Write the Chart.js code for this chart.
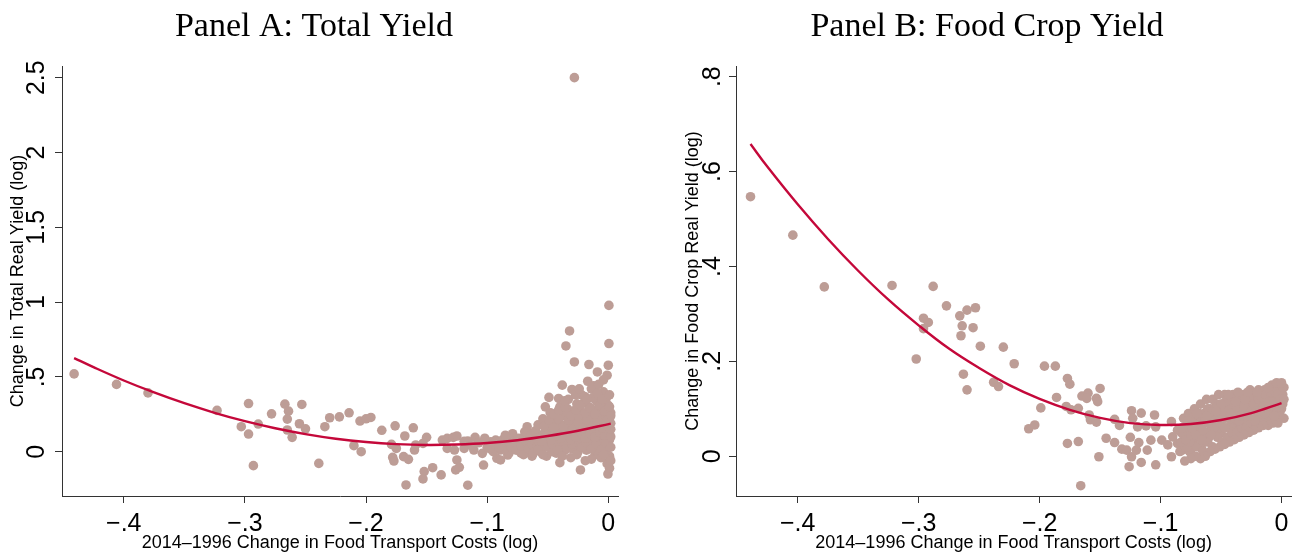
<!DOCTYPE html>
<html lang="en">
<head>
    <meta charset="UTF-8">
    <title>Panel A / Panel B yield vs transport costs</title>
    <script src="https://cdn.jsdelivr.net/npm/chart.js"></script>
    <style>
        body {
            margin: 0;
            background: #fff;
            overflow: hidden;
            width: 1292px;
            height: 552px;
        }
        .panel {
            position: absolute;
            top: 0;
        }
        #panelA { left: 0; }
        #panelB { left: 660px; }
    </style>
</head>
<body>

    <div class="panel" id="panelA"><canvas id="chartA" width="628" height="552"></canvas></div>
    <div class="panel" id="panelB"><canvas id="chartB" width="636" height="552"></canvas></div>

    <script>
        // ---- data ----
        const xTickVals = [-0.4, -0.3, -0.2, -0.1, 0];
        const xTickLabels = ["\u2212.4", "\u2212.3", "\u2212.2", "\u2212.1", "0"];

        const yTickValsA = [0, 0.5, 1, 1.5, 2, 2.5];
        const yTickLabelsA = ["0", ".5", "1", "1.5", "2", "2.5"];
        const yTickValsB = [0, 0.2, 0.4, 0.6, 0.8];
        const yTickLabelsB = ["0", ".2", ".4", ".6", ".8"];

        // Panel A: total yield, scatter (x = change in transport cost, y = change in yield)
        const totalYieldPts = [
            [-0.441,0.52],[-0.406,0.45],[-0.380,0.393],[-0.323,0.276],[-0.297,0.322],[-0.303,0.167],[-0.297,0.118],
            [-0.289,0.185],[-0.293,-0.093],[-0.278,0.253],[-0.267,0.318],[-0.264,0.271],[-0.265,0.218],[-0.265,0.145],
            [-0.261,0.096],[-0.253,0.316],[-0.255,0.187],[-0.250,0.153],[-0.239,-0.078],[-0.234,0.167],[-0.230,0.227],
            [-0.222,0.233],[-0.214,0.26],[-0.205,0.205],[-0.200,0.22],[-0.196,0.229],[-0.210,0.04],[-0.204,0.0],
            [-0.187,0.143],[-0.176,0.173],[-0.179,0.049],[-0.175,0.022],[-0.178,-0.038],[-0.177,-0.062],[-0.169,-0.033],
            [-0.165,-0.051],[-0.168,0.105],[-0.161,0.16],[-0.167,-0.222],[-0.159,0.045],[-0.160,0.011],[-0.153,0.056],
            [-0.150,0.096],[-0.152,-0.133],[-0.153,-0.182],[-0.145,-0.107],[-0.138,-0.155],[-0.137,0.078],[-0.133,0.089],
            [-0.133,0.022],[-0.128,0.096],[-0.125,0.105],[-0.127,0.011],[-0.125,-0.055],[-0.126,-0.122],[-0.123,-0.104],
            [-0.116,0.071],[-0.110,0.096],[-0.111,0.011],[-0.116,-0.224],[-0.119,0.022],[-0.104,-0.011],[-0.103,-0.089],
            [-0.097,0.067],[-0.093,0.078],[-0.092,-0.044],[-0.089,0.011],[-0.085,0.045],[-0.083,-0.022],[-0.089,-0.055],
            [-0.062,-0.01],[-0.100,0.03],[-0.095,0.00],[-0.088,0.05],[-0.084,0.08],[-0.082,-0.01],[-0.086,0.02],
            [-0.092,0.07],[-0.079,0.12],[-0.073,0.02],[-0.069,0.10],[-0.065,0.00],[-0.071,0.06],
            [-0.098,0.02],[-0.094,0.05],[-0.090,0.03],[-0.087,0.08],[-0.081,0.04],[-0.077,0.07],[-0.075,0.04],
            [-0.071,0.02],[-0.067,0.08],[-0.063,0.03],[-0.060,0.06],[-0.107,0.06],[-0.113,0.04],[-0.119,0.07],
            [-0.102,0.09],[-0.085,0.11],[-0.066,0.13],[-0.063,-0.03],[-0.072,-0.01],
            // outliers above the cloud
            [-0.028,2.5],[0.0005,0.978],[-0.032,0.807],[-0.035,0.707],[0.0005,0.723],[-0.028,0.60],[-0.016,0.583],
            [-0.009,0.533],[0.0,0.578],[-0.001,0.511],[-0.017,0.471],[-0.038,0.445],[-0.030,0.416],[-0.049,0.363],
            [-0.041,0.356],[-0.019,0.367],[-0.052,0.30],[-0.047,0.256],[-0.034,0.289],[-0.030,0.233],[-0.067,0.167],
            [-0.069,0.133],[-0.056,0.111],[-0.050,0.20],[-0.040,-0.073],[-0.023,-0.122],[0.0,-0.073],[-0.0003,-0.149],
            // dense cloud near zero
            [-0.080,0.03],[-0.078,0.06],[-0.076,0.01],[-0.074,0.09],[-0.072,0.04],[-0.070,-0.02],[-0.068,0.07],
            [-0.066,0.02],[-0.064,0.11],[-0.063,0.05],[-0.062,-0.01],[-0.061,0.08],[-0.060,0.14],[-0.059,0.03],
            [-0.058,0.18],[-0.057,0.06],[-0.056,0.00],[-0.055,0.10],[-0.054,0.22],[-0.053,0.04],[-0.052,0.13],
            [-0.051,-0.03],[-0.050,0.08],[-0.049,0.17],[-0.048,0.26],[-0.047,0.02],[-0.046,0.11],[-0.045,0.06],
            [-0.044,0.20],[-0.043,-0.01],[-0.042,0.15],[-0.041,0.09],[-0.040,0.30],[-0.039,0.04],[-0.038,0.12],
            [-0.037,0.24],[-0.036,0.01],[-0.035,0.18],[-0.034,0.07],[-0.033,0.35],[-0.032,0.14],[-0.031,-0.04],
            [-0.030,0.27],[-0.029,0.10],[-0.028,0.05],[-0.027,0.21],[-0.026,0.32],[-0.025,0.00],[-0.024,0.16],
            [-0.023,0.08],[-0.022,0.38],[-0.021,0.25],[-0.020,0.12],[-0.019,-0.06],[-0.018,0.19],[-0.017,0.04],
            [-0.016,0.30],[-0.015,0.09],[-0.014,0.42],[-0.013,0.22],[-0.012,0.14],[-0.011,-0.02],[-0.010,0.34],
            [-0.009,0.06],[-0.008,0.18],[-0.007,0.27],[-0.006,0.11],[-0.005,0.02],[-0.004,0.40],[-0.003,0.23],
            [-0.002,0.15],[-0.001,-0.08],[0.000,0.31],[0.001,0.08],[0.002,0.19],[0.002,0.26],[0.001,-0.03],
            [0.000,0.12],[-0.002,0.35],[-0.004,0.04],[-0.006,0.21],[-0.008,-0.01],[-0.010,0.13],[-0.012,0.28],
            [-0.014,0.07],[-0.016,0.17],[-0.018,0.01],[-0.020,0.23],[-0.022,0.10],[-0.024,0.29],[-0.026,0.05],
            [-0.028,0.15],[-0.030,0.02],[-0.032,0.20],[-0.034,0.26],[-0.036,0.10],[-0.038,0.03],[-0.040,0.16],
            [-0.042,0.06],[-0.044,0.10],[-0.046,0.00],[-0.048,0.14],[-0.003,0.09],[-0.007,0.05],[-0.011,0.20],
            [-0.015,0.25],[-0.019,0.14],[-0.023,0.20],[-0.027,0.12],[-0.005,0.29],[-0.009,0.24],[-0.013,0.36],
            [-0.017,0.11],[-0.021,0.06],[-0.001,0.17],[0.001,0.22],[-0.025,0.24],[-0.029,0.18],[-0.033,0.11],
            [-0.037,0.07],[-0.041,0.19],[0.000,0.04],[-0.002,0.00],[-0.006,-0.04],[-0.010,0.01],[-0.014,-0.05],
            [0.001,-0.11],[-0.004,0.48],[-0.012,0.44],[-0.020,0.33],
            [-0.058,0.01],[-0.054,-0.02],[-0.050,0.03],[-0.046,0.05],[-0.042,0.01],[-0.038,-0.03],[-0.034,0.02],
            [-0.030,0.05],[-0.026,-0.02],[-0.022,0.03],[-0.018,0.06],[-0.014,0.02],[-0.010,0.05],[-0.006,0.01],
            [-0.002,0.06],[0.002,0.03],[0.002,-0.06],[-0.004,-0.02],
            [-0.059,0.09],[-0.055,0.07],[-0.051,0.11],[-0.047,0.08],[-0.043,0.12],[-0.039,0.09],[-0.035,0.13],
            [-0.031,0.08],[-0.027,0.10],[-0.023,0.13],[-0.019,0.09],[-0.015,0.12],[-0.011,0.10],[-0.007,0.13],
            [-0.003,0.11],[0.001,0.14],[0.002,0.10],
            [-0.053,0.17],[-0.049,0.21],[-0.045,0.16],[-0.041,0.22],[-0.037,0.17],[-0.033,0.21],[-0.029,0.15],
            [-0.025,0.19],[-0.021,0.16],[-0.017,0.21],[-0.013,0.17],[-0.009,0.20],[-0.005,0.16],[-0.001,0.21],
            [0.002,0.15],
            [-0.045,0.25],[-0.041,0.28],[-0.036,0.30],[-0.031,0.24],[-0.027,0.28],[-0.023,0.31],[-0.019,0.26],
            [-0.015,0.29],[-0.011,0.25],[-0.007,0.31],[-0.003,0.27],[0.001,0.30],[0.002,0.24],
            [-0.036,0.34],[-0.027,0.38],[-0.018,0.35],[-0.009,0.39],[-0.005,0.35],[0.001,0.38],[-0.024,0.42],
            [-0.008,0.45]
        ];
        // quadratic fit line, read at points along the curve
        const totalFitX = [-0.441,-0.425,-0.4,-0.375,-0.35,-0.325,-0.3,-0.275,-0.25,-0.225,-0.2,-0.175,-0.15,-0.125,-0.1,-0.075,-0.05,-0.025,0.002];
        const totalFitY = [0.626,0.565,0.476,0.396,0.324,0.260,0.204,0.157,0.118,0.087,0.065,0.051,0.045,0.048,0.058,0.077,0.105,0.140,0.188];

        // Panel B: food crop yield
        const foodYieldPts = [
            [-0.439,0.547],[-0.404,0.466],[-0.378,0.357],[-0.322,0.36],[-0.288,0.358],[-0.277,0.317],[-0.253,0.313],
            [-0.260,0.308],[-0.266,0.296],[-0.296,0.291],[-0.292,0.282],[-0.296,0.269],[-0.264,0.275],[-0.255,0.271],
            [-0.265,0.254],[-0.249,0.232],[-0.230,0.23],[-0.302,0.205],[-0.263,0.173],[-0.260,0.14],[-0.238,0.156],
            [-0.234,0.147],[-0.221,0.195],[-0.196,0.19],[-0.187,0.19],[-0.177,0.164],[-0.175,0.152],[-0.186,0.124],
            [-0.199,0.102],[-0.209,0.058],[-0.204,0.066],[-0.150,0.143],[-0.165,0.127],[-0.160,0.133],[-0.161,0.122],
            [-0.153,0.122],[-0.152,0.115],[-0.168,0.101],[-0.178,0.105],[-0.174,0.098],[-0.159,0.087],[-0.158,0.077],
            [-0.153,0.072],[-0.177,0.027],[-0.168,0.031],[-0.166,-0.062],[-0.151,-0.001],[-0.145,0.038],[-0.138,0.078],
            [-0.138,0.029],[-0.134,0.065],[-0.132,0.015],[-0.128,0.013],[-0.126,-0.022],[-0.125,0.04],[-0.124,0.096],
            [-0.123,0.08],[-0.124,-0.001],[-0.120,0.013],[-0.118,0.029],[-0.119,0.062],[-0.116,0.091],[-0.116,-0.013],
            [-0.111,0.013],[-0.112,0.064],[-0.108,0.034],[-0.105,0.087],[-0.104,-0.018],[-0.104,0.062],[-0.099,0.034],
            [-0.094,0.024],[-0.091,0.073],[-0.091,-0.001],[-0.090,0.041],[-0.086,0.027],[-0.086,0.055],
            [-0.082,0.013],[-0.075,0.014],[-0.066,0.016],
            // dense band near zero
            [-0.084,0.01],[-0.083,0.05],[-0.082,0.03],[-0.081,0.08],[-0.080,0.02],[-0.079,0.06],[-0.078,0.04],
            [-0.077,0.09],[-0.076,0.01],[-0.075,0.07],[-0.074,0.05],[-0.073,0.03],[-0.072,0.10],[-0.071,0.06],
            [-0.070,0.02],[-0.069,0.08],[-0.068,0.04],[-0.067,0.11],[-0.066,0.07],[-0.065,0.03],[-0.064,0.09],
            [-0.063,0.05],[-0.062,0.12],[-0.061,0.08],[-0.060,0.04],[-0.059,0.10],[-0.058,0.06],[-0.057,0.12],
            [-0.056,0.09],[-0.055,0.05],[-0.054,0.11],[-0.053,0.07],[-0.052,0.13],[-0.051,0.09],[-0.050,0.05],
            [-0.049,0.11],[-0.048,0.08],[-0.047,0.13],[-0.046,0.10],[-0.045,0.06],[-0.044,0.12],[-0.043,0.08],
            [-0.042,0.11],[-0.041,0.07],[-0.040,0.13],[-0.039,0.10],[-0.038,0.06],[-0.037,0.12],[-0.036,0.09],
            [-0.035,0.13],[-0.034,0.07],[-0.033,0.11],[-0.032,0.09],[-0.031,0.13],[-0.030,0.07],[-0.029,0.12],
            [-0.028,0.10],[-0.027,0.08],[-0.026,0.14],[-0.025,0.11],[-0.024,0.07],[-0.023,0.13],[-0.022,0.09],
            [-0.021,0.12],[-0.020,0.08],[-0.019,0.14],[-0.018,0.11],[-0.017,0.09],[-0.016,0.13],[-0.015,0.08],
            [-0.014,0.12],[-0.013,0.10],[-0.012,0.14],[-0.011,0.08],[-0.010,0.12],[-0.009,0.10],[-0.008,0.15],
            [-0.007,0.09],[-0.006,0.13],[-0.005,0.11],[-0.004,0.14],[-0.003,0.09],[-0.002,0.12],[-0.001,0.15],
            [0.000,0.10],[0.001,0.13],[0.002,0.08],[0.002,0.145],[0.001,0.11],[0.000,0.14],[-0.002,0.09],
            [-0.004,0.12],[-0.006,0.10],[-0.008,0.12],[-0.010,0.09],[-0.012,0.11],[-0.014,0.14],[-0.016,0.10],
            [-0.018,0.13],[-0.020,0.11],[-0.022,0.13],[-0.024,0.10],[-0.026,0.12],[-0.028,0.07],[-0.030,0.10],
            [-0.032,0.12],[-0.034,0.10],[-0.036,0.12],[-0.038,0.09],[-0.040,0.10],[-0.042,0.06],[-0.044,0.09],
            [-0.046,0.08],[-0.048,0.11],[-0.050,0.09],[-0.052,0.06],[-0.054,0.08],[-0.056,0.06],[-0.058,0.09],
            [-0.060,0.07],[-0.062,0.05],[-0.064,0.07],[-0.066,0.05],[-0.068,0.09],[-0.070,0.06],[-0.072,0.04],
            [-0.074,0.08],[-0.078,0.02],[-0.080,0.05],[-0.076,0.03],[-0.065,0.01],[-0.061,0.03],[-0.057,0.02],
            [-0.053,0.04],[-0.049,0.03],[-0.045,0.04],[-0.041,0.05],[-0.037,0.05],[-0.033,0.06],[-0.029,0.06],
            [-0.025,0.07],[-0.021,0.07],[-0.017,0.08],[-0.013,0.08],[-0.009,0.08],[-0.005,0.08],[-0.001,0.085],
            [-0.003,0.07],[-0.007,0.07],[-0.011,0.065],[-0.015,0.065],[-0.019,0.06],[-0.023,0.055],[-0.027,0.05],
            [-0.031,0.045],[-0.035,0.04],[-0.039,0.035],[-0.043,0.03],[-0.047,0.025],[-0.051,0.02],[-0.055,0.015],
            [-0.059,0.01],[-0.063,0.0],[-0.067,-0.005],[-0.071,0.0],[-0.075,-0.005],[-0.080,-0.01],
            [-0.083,0.03],[-0.081,0.045],[-0.079,0.035],[-0.077,0.06],[-0.075,0.045],[-0.073,0.07],[-0.071,0.045],
            [-0.069,0.065],[-0.067,0.085],[-0.065,0.055],[-0.063,0.075],[-0.061,0.10],[-0.059,0.075],[-0.057,0.095],
            [-0.055,0.075],[-0.053,0.105],[-0.051,0.07],[-0.049,0.095],[-0.047,0.06],[-0.045,0.11],[-0.043,0.10],
            [-0.041,0.12],[-0.039,0.08],[-0.037,0.105],[-0.035,0.075],[-0.033,0.125],[-0.031,0.105],[-0.029,0.085],
            [-0.027,0.125],[-0.025,0.095],[-0.023,0.11],[-0.021,0.095],[-0.019,0.12],[-0.017,0.125],[-0.015,0.105],
            [-0.013,0.13],[-0.011,0.115],[-0.009,0.135],[-0.007,0.115],[-0.005,0.135],[-0.003,0.13],[-0.001,0.12],
            [0.001,0.145],[0.002,0.12],[-0.002,0.105],[-0.006,0.085],[-0.010,0.105],[-0.014,0.09],[-0.018,0.095],
            [-0.022,0.075],[-0.026,0.085],[-0.030,0.12],[-0.034,0.085],[-0.038,0.115],[-0.042,0.09],[-0.046,0.115],
            [-0.050,0.11],[-0.054,0.095],[-0.058,0.045],[-0.062,0.085],[-0.066,0.035],[-0.070,0.09],[-0.074,0.06],
            [-0.078,0.075],[-0.082,0.06],[-0.011,0.145],[-0.004,0.155],[-0.020,0.135],[-0.028,0.135],[0.000,0.155],
            [-0.036,0.135],[-0.044,0.13]
        ];
        const foodFitX = [-0.439,-0.425,-0.4,-0.375,-0.35,-0.325,-0.3,-0.275,-0.25,-0.225,-0.2,-0.175,-0.15,-0.125,-0.1,-0.075,-0.05,-0.025,0.0];
        const foodFitY = [0.658,0.610,0.531,0.458,0.391,0.330,0.276,0.227,0.186,0.150,0.121,0.098,0.081,0.070,0.066,0.068,0.0765,0.091,0.112];

        const DOT = '#bd9d96';
        const FIT = '#c4083a';
        const AXIS = '#333';

        // draws the Stata-like text: panel title, rotated y tick labels, axis titles
        const stataText = {
            id: 'stataText',
            afterDraw(chart, args, opts) {
                const ctx = chart.ctx;
                const ys = chart.scales.y;
                const xs = chart.scales.x;
                const area = chart.chartArea;
                ctx.save();
                ctx.fillStyle = '#000';
                ctx.textAlign = 'center';
                ctx.textBaseline = 'middle';

                ctx.font = '34px "Liberation Serif", serif';
                ctx.fillText(opts.title, opts.titleX, 27);

                ctx.font = '25px "Liberation Sans", Arial, sans-serif';
                opts.yTicks.forEach((v, i) => {
                    ctx.save();
                    ctx.translate(opts.yTickX, ys.getPixelForValue(v));
                    ctx.rotate(-Math.PI / 2);
                    ctx.fillText(opts.yLabels[i], 0, 0);
                    ctx.restore();
                });

                ctx.font = '18px "Liberation Sans", Arial, sans-serif';
                ctx.save();
                ctx.translate(opts.yTitleX, (area.top + area.bottom) / 2);
                ctx.rotate(-Math.PI / 2);
                ctx.fillText(opts.yTitle, 0, 0);
                ctx.restore();

                ctx.fillText(opts.xTitle, (xs.left + xs.right) / 2, 543);
                ctx.restore();
            }
        };

        function makePanel(canvasId, pts, fitX, fitY, yMin, yMax, yTicks, yLabels, yAxisWidth, padRight, text) {
            const ctx = document.getElementById(canvasId).getContext('2d');
            return new Chart(ctx, {
                type: 'scatter',
                data: {
                    datasets: [
                        {
                            type: 'line',
                            data: fitX.map((x, i) => ({ x: x, y: fitY[i] })),
                            borderColor: FIT,
                            borderWidth: 2.4,
                            pointRadius: 0,
                            tension: 0.4,
                            fill: false
                        },
                        {
                            data: pts.map(p => ({ x: p[0], y: p[1] })),
                            backgroundColor: DOT,
                            borderWidth: 0,
                            pointRadius: 4.8,
                            pointHoverRadius: 4.8
                        }
                    ]
                },
                options: {
                    responsive: false,
                    animation: false,
                    devicePixelRatio: 1,
                    layout: { padding: { top: 66, right: padRight, left: 0, bottom: 0 } },
                    plugins: {
                        legend: { display: false },
                        tooltip: { enabled: false },
                        stataText: text
                    },
                    scales: {
                        x: {
                            type: 'linear',
                            min: -0.451,
                            max: 0.008,
                            afterBuildTicks: s => { s.ticks = xTickVals.map(v => ({ value: v })); },
                            afterFit: s => { s.height = 56; },
                            ticks: {
                                autoSkip: false,
                                maxRotation: 0,
                                padding: 6,
                                color: '#000',
                                font: { family: '"Liberation Sans", Arial, sans-serif', size: 25 },
                                callback: (v, i) => xTickLabels[i]
                            },
                            grid: { drawOnChartArea: false, drawTicks: true, tickLength: 7, color: AXIS },
                            border: { display: true, color: AXIS, width: 1 }
                        },
                        y: {
                            type: 'linear',
                            min: yMin,
                            max: yMax,
                            afterBuildTicks: s => { s.ticks = yTicks.map(v => ({ value: v })); },
                            afterFit: s => { s.width = yAxisWidth; },
                            ticks: { display: false },
                            grid: { drawOnChartArea: false, drawTicks: true, tickLength: 7, color: AXIS },
                            border: { display: true, color: AXIS, width: 1 }
                        }
                    }
                },
                plugins: [stataText]
            });
        }

        makePanel('chartA', totalYieldPts, totalFitX, totalFitY, -0.296, 2.578, yTickValsA, yTickLabelsA, 62, 10, {
            title: 'Panel A: Total Yield', titleX: 314,
            yTicks: yTickValsA, yLabels: yTickLabelsA, yTickX: 37,
            yTitle: 'Change in Total Real Yield (log)', yTitleX: 18,
            xTitle: '2014\u20131996 Change in Food Transport Costs (log)'
        });

        makePanel('chartB', foodYieldPts, foodFitX, foodFitY, -0.0837, 0.8225, yTickValsB, yTickLabelsB, 76, 4, {
            title: 'Panel B: Food Crop Yield', titleX: 327,
            yTicks: yTickValsB, yLabels: yTickLabelsB, yTickX: 53,
            yTitle: 'Change in Food Crop Real Yield (log)', yTitleX: 33,
            xTitle: '2014\u20131996 Change in Food Transport Costs (log)'
        });
    </script>

</body>
</html>
